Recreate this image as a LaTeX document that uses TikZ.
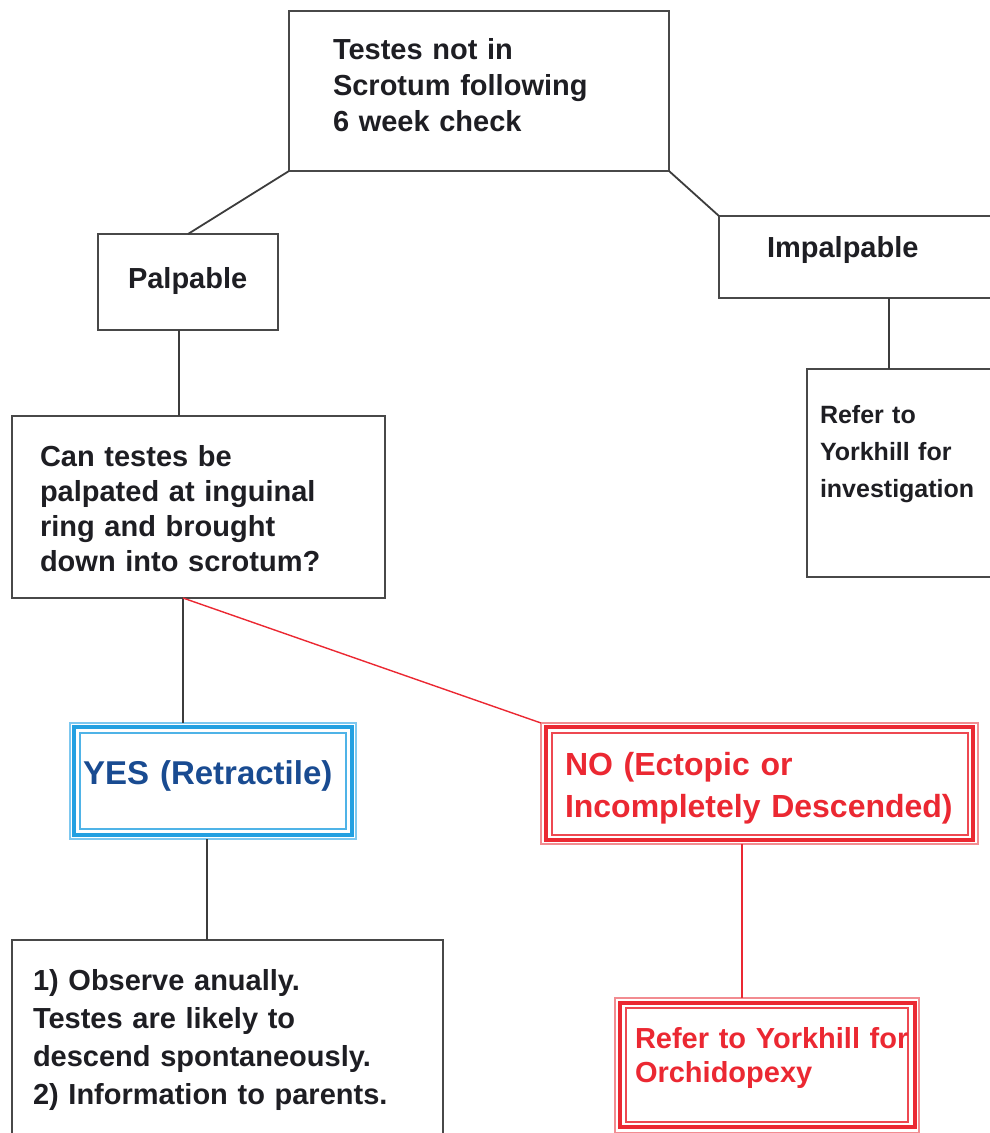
\documentclass[tikz,border=0pt]{standalone}
\usepackage{fontspec}
\setmainfont{Liberation Sans}
\definecolor{boxgray}{RGB}{72,72,72}
\definecolor{linegray}{RGB}{60,60,60}
\definecolor{textblack}{RGB}{30,30,35}
\definecolor{bluethick}{RGB}{35,160,225}
\definecolor{bluelight}{RGB}{125,200,240}
\definecolor{bluetext}{RGB}{25,75,145}
\definecolor{redmain}{RGB}{235,40,50}
\definecolor{redlight}{RGB}{242,140,145}
\begin{document}
\begin{tikzpicture}[x=1pt,y=-1pt,
  box/.style={draw=boxgray, line width=2pt, inner sep=0pt, outer sep=0pt, anchor=north west},
  bluebox/.style={draw=bluethick, line width=3.5pt, inner sep=0pt, outer sep=0pt, anchor=north west},
  redbox/.style={draw=redmain, line width=3.5pt, inner sep=0pt, outer sep=0pt, anchor=north west},
  blueouter/.style={draw=bluelight, line width=1.5pt},
  blueinner/.style={draw=bluethick!80, line width=1.5pt},
  redouter/.style={draw=redlight, line width=1.5pt},
  redinner/.style={draw=redmain!85, line width=1.5pt},
  conn/.style={draw=linegray, line width=1.8pt},
  redconn/.style={draw=redmain, line width=1.4pt},
  txt/.style={anchor=base west, inner sep=0pt, outer sep=0pt, align=left, text width=#1, text=textblack},
  f29/.style={font=\fontsize{29}{36}\selectfont\bfseries},
]
\useasboundingbox (0,0) rectangle (990,1133);
\clip (0,0) rectangle (990,1133);

% boxes
\node[box, minimum width=380, minimum height=160] (top) at (289,11) {};
\node[box, minimum width=180, minimum height=96] (pal) at (98,234) {};
\node[box, minimum width=290, minimum height=82] (imp) at (719,216) {};
\node[box, minimum width=200, minimum height=208] (ref) at (807,369) {};
\node[box, minimum width=373, minimum height=182] (can) at (12,416) {};
\node[box, minimum width=431, minimum height=210] (ll) at (12,940) {};
\node[bluebox, minimum width=278, minimum height=108] (yes) at (74,727) {};
\node[redbox, minimum width=427, minimum height=113] (no) at (546,727) {};
\node[redbox, minimum width=295, minimum height=124] (orch) at (620,1003) {};

% double frames
\draw[blueouter] ([shift={(-4,-4)}]yes.north west) rectangle ([shift={(4,4)}]yes.south east);
\draw[blueinner] ([shift={(6,6)}]yes.north west) rectangle ([shift={(-6,-6)}]yes.south east);
\draw[redouter] ([shift={(-5,-4)}]no.north west) rectangle ([shift={(5,4)}]no.south east);
\draw[redinner] ([shift={(6,6)}]no.north west) rectangle ([shift={(-5,-5)}]no.south east);
\draw[redouter] ([shift={(-5,-5)}]orch.north west) rectangle ([shift={(4,6)}]orch.south east);
\draw[redinner] ([shift={(6,5)}]orch.north west) rectangle ([shift={(-7,-5)}]orch.south east);

% texts
\node[txt=330, f29] (topT) at (333,59) {Testes not in\\Scrotum following\\6 week check};
\node[txt=170, f29] (palT) at (128,288) {Palpable};
\node[txt=220, f29] (impT) at (767,257) {Impalpable};
\node[txt=180, font=\fontsize{25}{37}\selectfont\bfseries] (refT) at (820,423) {Refer to\\Yorkhill for\\investigation};
\node[txt=350, font=\fontsize{29}{35.3}\selectfont\bfseries] (canT) at (40,466) {Can testes be\\palpated at inguinal\\ring and brought\\down into scrotum?};
\node[txt=400, font=\fontsize{29}{38.3}\selectfont\bfseries] (llT) at (33,990) {1) Observe anually.\\Testes are likely to\\descend spontaneously.\\2) Information to parents.};
\node[txt=280, text=bluetext, font=\fontsize{33}{40}\selectfont\bfseries] (yesT) at (83,784) {YES (Retractile)};
\node[txt=420, text=redmain, font=\fontsize{32}{42}\selectfont\bfseries] (noT) at (565,775) {NO (Ectopic or\\Incompletely Descended)};
\node[txt=300, text=redmain, font=\fontsize{29}{34}\selectfont\bfseries] (orchT) at (635,1048) {Refer to Yorkhill for\\Orchidopexy};

% connectors
\draw[conn] (top.south west) -- (pal.north);
\draw[conn] (top.south east) -- (imp.north west);
\draw[conn] ([xshift=-9]pal.south) -- ([xshift=-9]pal.south |- can.north);
\coordinate (ib) at ([xshift=170]imp.south west);
\draw[conn] (ib) -- (ib |- ref.north);
\coordinate (cb) at ([xshift=-15.5]can.south);
\draw[conn] (cb) -- ([yshift=4]cb |- yes.north);
\draw[redconn] (cb) -- ([shift={(-5,-4)}]no.north west);
\coordinate (yb) at ([xshift=-6]yes.south);
\draw[conn] ([yshift=-4]yb) -- (yb |- ll.north);
\coordinate (nb) at ([xshift=-17.5]no.south);
\draw[redconn] ([yshift=-4]nb) -- ([yshift=5]nb |- orch.north);
\end{tikzpicture}
\end{document}
